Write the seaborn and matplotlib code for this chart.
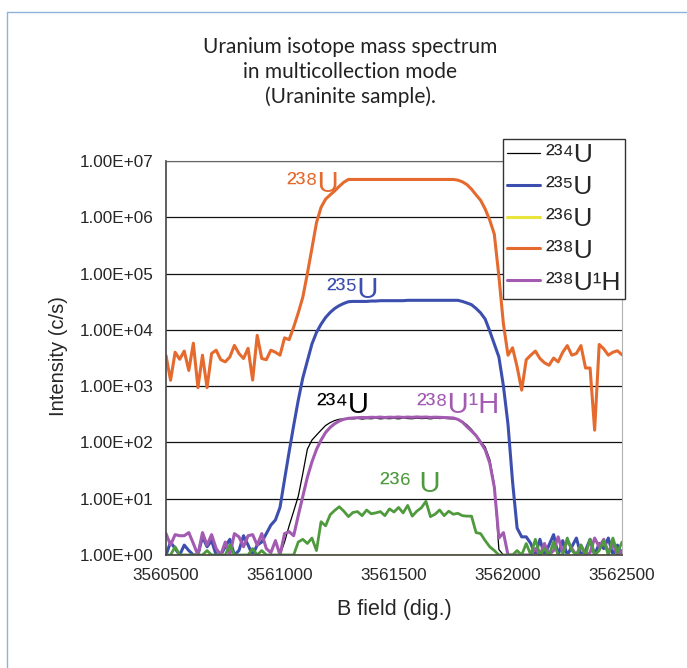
import numpy as np
import pandas as pd
import matplotlib
matplotlib.use("Agg")
import matplotlib.pyplot as plt
import seaborn as sns
from matplotlib.lines import Line2D

# -------------------------------
# DATA
# -------------------------------
b_field = np.arange(3560500, 3562501, 20)

u234 = [1, 1, 1, 1, 1, 1, 1, 1, 1, 1,
        1, 1, 1, 1, 1, 1, 1, 1, 1, 1,
        1, 1, 1, 1, 1, 1, 1.7, 3.3, 6, 11,
        28, 76, 110, 135, 165, 200, 225, 245, 258, 262,
        265, 262, 268, 260, 266, 263, 270, 262, 267, 264,
        268, 262, 270, 266, 263, 271, 265, 268, 262, 270,
        266, 268, 264, 262, 255, 235, 205, 170, 135, 105,
        83, 50, 18, 1.25, 1, 1, 1, 1, 1, 1,
        1, 1, 1, 1, 1, 1, 1, 1, 1, 1,
        1, 1, 1, 1, 1, 1, 1, 1, 1, 1,
        1]

u235 = [1, 1.7, 1.3, 1, 1.5, 1.2, 1, 1, 2.1, 1.4,
        1.8, 1, 1, 1.4, 1.9, 1, 1.2, 2.2, 1.5, 1,
        1.5, 1.7, 2.4, 3.4, 4.2, 7, 22, 68, 200, 560,
        1400, 2800, 5600, 9000, 12600, 16600, 20400, 24000, 27000, 29500,
        31600, 32000, 32000, 32000, 32000, 32500, 32500, 33000, 33000, 33000,
        33000, 33000, 33000, 33500, 33500, 33500, 33500, 33500, 33500, 33500,
        33500, 33500, 33500, 33500, 33500, 32000, 30000, 28000, 24000, 20000,
        15500, 9500, 5600, 3300, 1000, 210, 20, 3, 2.1, 2.1,
        1.6, 1, 1.9, 1, 1.5, 2.3, 1, 1.8, 1, 1.4,
        2.0, 1, 1.2, 1.9, 1, 1.6, 1.3, 2.0, 1, 1.5,
        1]

u236 = [1] * 101

u238 = [3500, 1270, 4000, 3000, 4200, 1900, 5800, 940, 3550, 940,
        3800, 4350, 2950, 2700, 3300, 5300, 3800, 3100, 4700, 1280,
        8000, 3100, 2950, 4350, 4000, 3550, 7200, 6700, 11200, 20000,
        38000, 100000, 280000, 800000, 1.5e6, 2.1e6, 2.5e6, 2.95e6, 3.55e6, 4.2e6,
        4.7e6, 4.7e6, 4.7e6, 4.7e6, 4.7e6, 4.7e6, 4.7e6, 4.7e6, 4.7e6, 4.7e6,
        4.7e6, 4.7e6, 4.7e6, 4.7e6, 4.7e6, 4.7e6, 4.7e6, 4.7e6, 4.7e6, 4.7e6,
        4.7e6, 4.7e6, 4.7e6, 4.7e6, 4.57e6, 4.27e6, 3.8e6, 3.16e6, 2.5e6, 2.0e6,
        1.4e6, 8.9e5, 5.0e5, 9.0e4, 12600, 3550, 4800, 2200, 850, 2950,
        3550, 4200, 3100, 2600, 2350, 3150, 2700, 4000, 5250, 3550,
        3800, 5250, 2100, 2100, 165, 5500, 4600, 3550, 4000, 4250,
        3600]

u238h = [2.4, 1.5, 2.3, 2.2, 2.2, 2.5, 1.6, 1, 2.5, 1.5,
         2.3, 1.3, 1, 1.7, 1, 2.4, 2.1, 1.4, 2.2, 2.3,
         1.5, 2.4, 1.3, 1.1, 1.8, 1, 2.4, 2.6, 2.2, 5,
         11, 24, 45, 75, 110, 150, 185, 215, 240, 258,
         268, 272, 275, 278, 276, 280, 278, 282, 277, 281,
         279, 283, 278, 282, 279, 284, 280, 283, 278, 281,
         279, 277, 275, 272, 257, 230, 190, 160, 132, 100,
         74, 43, 16, 2, 2.5, 1, 1, 1, 1, 1,
         1, 1.3, 1, 1.6, 1, 1.2, 2.1, 1.1, 1.8, 1.3,
         1, 1.5, 1, 1.1, 2.0, 1.4, 1.9, 1.1, 1.6, 1,
         1.2]

# green trace, annotated "236 U" on the chart but not in the legend
u236_trace = [1, 1, 1.4, 1, 1, 1, 1, 1, 1, 1.2,
              1, 1, 1, 1, 1.5, 1, 1, 1, 1, 1.3,
              1, 1.2, 1, 1, 1, 1, 1, 1, 1, 1.7,
              1.9, 1.6, 2.0, 1.2, 3.9, 3.3, 5.2, 6.2, 7.2, 6.0,
              4.8, 5.7, 5.9, 5.0, 6.3, 5.4, 5.6, 5.9, 5.0, 6.6,
              5.8, 7.0, 5.6, 7.6, 4.9, 6.0, 6.9, 9.0, 4.8, 5.3,
              6.3, 5.0, 6.0, 5.3, 5.5, 5.0, 4.9, 4.9, 2.5, 2.4,
              1.8, 1.4, 1.2, 1, 1, 1, 1, 1.2, 1, 1.6,
              1, 1.9, 1, 1.3, 1, 1.7, 1, 1, 2.0, 1.2,
              1, 1.5, 1, 1.9, 1, 1.2, 1.8, 1, 2.0, 1.1,
              1.7]

series_labels = ["²³⁴U", "²³⁵U", "²³⁶U", "²³⁸U", "²³⁸U¹H", "236"]
series_colors = ["#000000", "#3d4fae", "#e8e43a", "#e46a2e", "#a25bb0", "#4f9a3d"]
series_widths = [0.9, 2.2, 2.2, 2.2, 2.2, 2.0]

y_ticks = [1e0, 1e1, 1e2, 1e3, 1e4, 1e5, 1e6, 1e7]
y_tick_labels = ["1.00E+00", "1.00E+01", "1.00E+02", "1.00E+03",
                 "1.00E+04", "1.00E+05", "1.00E+06", "1.00E+07"]
x_ticks = [3560500, 3561000, 3561500, 3562000, 3562500]

# -------------------------------
# PLOT
# -------------------------------
sns.set_style("white")
plt.rcParams["font.family"] = ["Liberation Sans", "DejaVu Sans"]

fig = plt.figure(figsize=(6.87, 6.68), dpi=100)
ax = fig.add_axes([166 / 687, 1 - 555 / 668, 456 / 687, 394 / 668])

all_series = [u234, u235, u236, u238, u238h, u236_trace]
for vals, lab, col, lw in zip(all_series, series_labels, series_colors, series_widths):
    df = pd.DataFrame({"B": b_field, "I": vals})
    sns.lineplot(data=df, x="B", y="I", color=col, linewidth=lw, label=lab, ax=ax)

ax.set_yscale("log")
ax.set_ylim(1, 1e7)
ax.set_xlim(3560500, 3562500)
ax.set_yticks(y_ticks)
ax.set_yticklabels(y_tick_labels)
ax.set_xticks(x_ticks)
ax.set_xticklabels([str(v) for v in x_ticks])
ax.minorticks_off()
ax.tick_params(axis="both", direction="out", length=5, width=1, color="#444",
               labelsize=12.3, pad=4)
ax.yaxis.grid(True, color="#111", linewidth=0.9)
ax.xaxis.grid(False)
ax.set_axisbelow(True)

for side in ["left", "bottom"]:
    ax.spines[side].set_color("#444")
    ax.spines[side].set_linewidth(1.2)
ax.spines["right"].set_color("#b0b0b0")
ax.spines["top"].set_color("#666")

ax.set_xlabel("B field (dig.)", fontsize=15.5)
ax.set_ylabel("Intensity (c/s)", fontsize=14.5)
ax.xaxis.set_label_coords(0.5, -0.112)
ax.yaxis.set_label_coords(-0.215, 0.505)

# in-plot annotations
ann = dict(fontsize=21, ha="left", va="baseline")
ax.text(3561026, 10 ** 6.45, "²³⁸U", color="#e46a2e", **ann)
ax.text(3561202, 10 ** 4.56, "²³⁵U", color="#3d4fae", **ann)
ax.text(3561161, 10 ** 2.52, "²³⁴U", color="#000000", **ann)
ax.text(3561600, 10 ** 2.52, "²³⁸U¹H", color="#a25bb0", **ann)
ax.text(3561439, 10 ** 1.12, "²³⁶ U", color="#4f9a3d", **ann)

handles, labels = ax.get_legend_handles_labels()
leg = ax.legend(handles[:5], labels[:5], loc="upper right",
                bbox_to_anchor=(625 / 687, 1 - 139 / 668),
                bbox_transform=fig.transFigure, frameon=True, fancybox=False,
                edgecolor="#333", framealpha=1, fontsize=19,
                handlelength=1.25, handletextpad=0.22, labelspacing=0.3,
                borderpad=0.15, borderaxespad=0)
leg.get_frame().set_linewidth(1.0)

fig.text(350 / 687, 1 - 72 / 668,
         "Uranium isotope mass spectrum\nin multicollection mode\n(Uraninite sample).",
         ha="center", va="center", fontsize=15, family="Lato", color="#222",
         linespacing=1.3)

# light blue page frame
fig.add_artist(Line2D([7 / 687, 7 / 687], [0, 1 - 12 / 668],
                      transform=fig.transFigure, color="#8db3dd", lw=1))
fig.add_artist(Line2D([7 / 687, 1], [1 - 12 / 668, 1 - 12 / 668],
                      transform=fig.transFigure, color="#8db3dd", lw=1))

fig.savefig("out.png", dpi=100, facecolor="white")
